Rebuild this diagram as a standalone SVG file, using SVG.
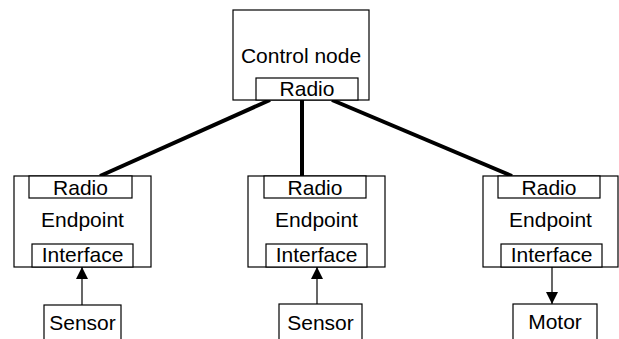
<svg xmlns="http://www.w3.org/2000/svg" width="619" height="339" viewBox="0 0 619 339">
<style>
.box{fill:#fff;stroke:#000;stroke-width:1.2}
.t{font-family:"Liberation Sans",Arial,sans-serif;font-size:21px;fill:#000;text-anchor:middle}
.link{stroke:#000;stroke-width:4;fill:none}
.arr{stroke:#000;stroke-width:1.2;fill:none}
</style>
<defs>
<marker id="ah" markerWidth="12" markerHeight="12" refX="12" refY="6" orient="auto" markerUnits="userSpaceOnUse">
<path d="M0,0 L12,6 L0,12 Z" fill="#000"/>
</marker>
</defs>
<rect width="619" height="339" fill="#fff"/>
<g id="connectors">
<line class="link" x1="270" y1="100" x2="100" y2="176"/>
<line class="link" x1="302" y1="100" x2="302" y2="176"/>
<line class="link" x1="332" y1="100" x2="512" y2="176"/>
<line class="arr" x1="82" y1="305" x2="82" y2="267" marker-end="url(#ah)"/>
<line class="arr" x1="317" y1="304" x2="317" y2="267" marker-end="url(#ah)"/>
<line class="arr" x1="552" y1="267" x2="552" y2="304" marker-end="url(#ah)"/>
</g>
<g id="control">
<rect class="box" x="233" y="10" width="136" height="90"/>
<text class="t" x="301" y="63">Control node</text>
<rect class="box" x="256" y="78" width="102" height="22"/>
<text class="t" x="307" y="96">Radio</text>
</g>
<g id="endpoint1">
<rect class="box" x="14" y="176" width="137" height="91"/>
<rect class="box" x="29" y="176" width="103" height="22"/>
<text class="t" x="80.5" y="195">Radio</text>
<text class="t" x="82.5" y="227">Endpoint</text>
<rect class="box" x="32" y="244" width="101" height="23"/>
<text class="t" x="82.5" y="262">Interface</text>
</g>
<g id="endpoint2">
<rect class="box" x="248" y="176" width="137" height="91"/>
<rect class="box" x="264" y="176" width="102" height="22"/>
<text class="t" x="315" y="195">Radio</text>
<text class="t" x="316.5" y="227">Endpoint</text>
<rect class="box" x="266" y="244" width="101" height="23"/>
<text class="t" x="316.5" y="262">Interface</text>
</g>
<g id="endpoint3">
<rect class="box" x="483" y="176" width="135" height="91"/>
<rect class="box" x="498" y="176" width="102" height="22"/>
<text class="t" x="549" y="195">Radio</text>
<text class="t" x="550.5" y="227">Endpoint</text>
<rect class="box" x="501" y="244" width="101" height="23"/>
<text class="t" x="551.5" y="262">Interface</text>
</g>
<g id="sensor1">
<rect class="box" x="44" y="305" width="77" height="40"/>
<text class="t" x="82.5" y="330">Sensor</text>
</g>
<g id="sensor2">
<rect class="box" x="279" y="304" width="83" height="41"/>
<text class="t" x="320.5" y="330">Sensor</text>
</g>
<g id="motor">
<rect class="box" x="513" y="304" width="84" height="41"/>
<text class="t" x="555" y="329">Motor</text>
</g>
</svg>
